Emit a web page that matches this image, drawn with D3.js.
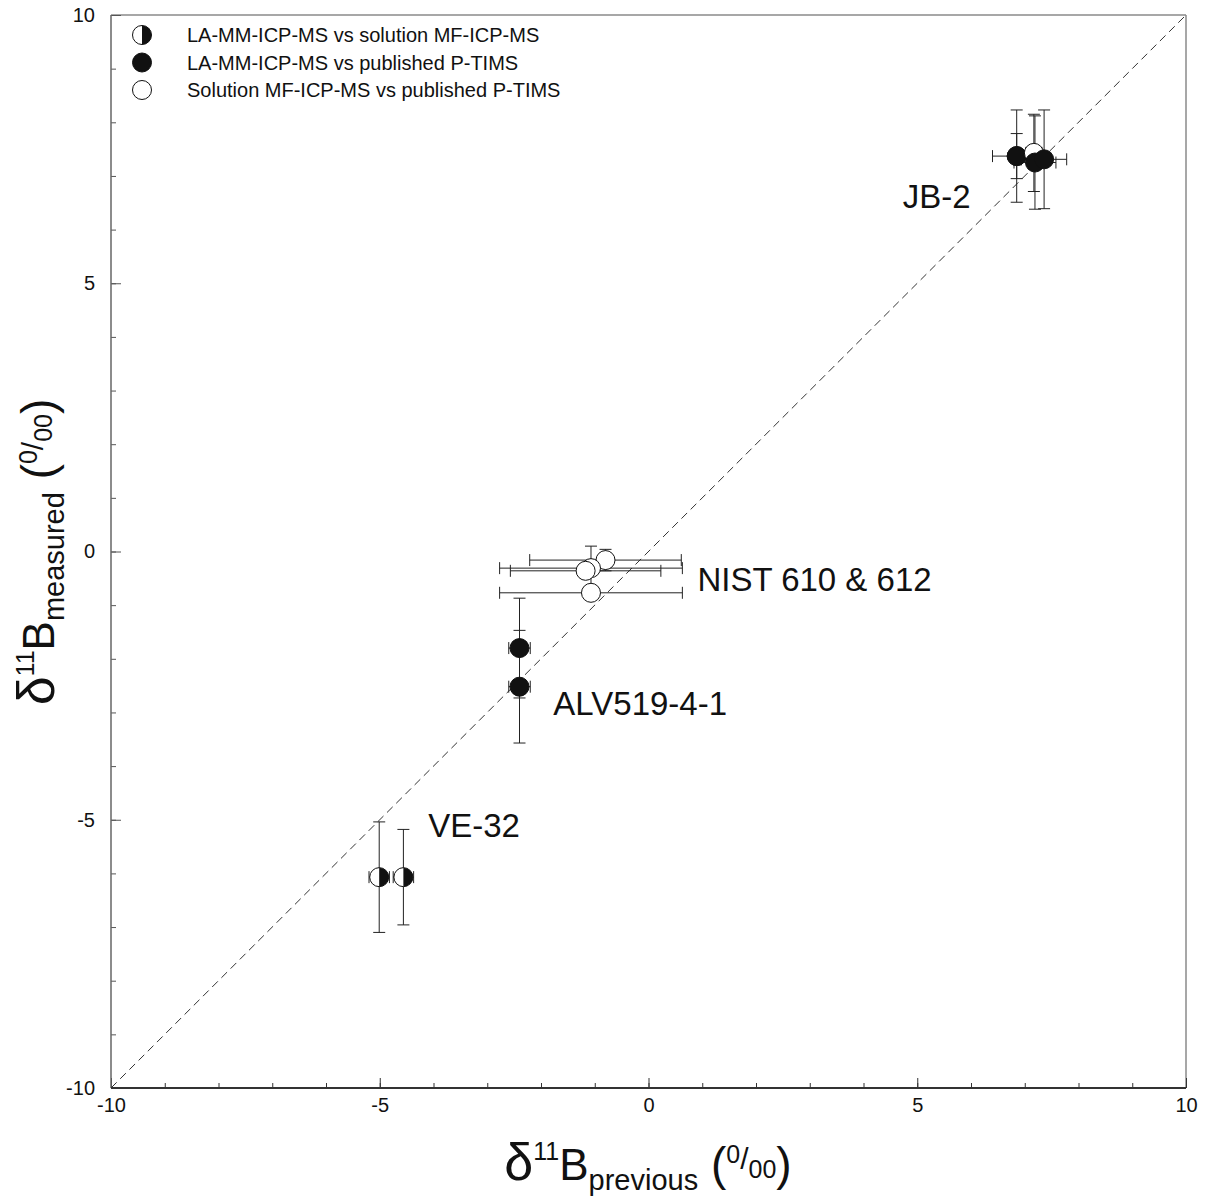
<!DOCTYPE html>
<html>
<head>
<meta charset="utf-8">
<script src="https://cdn.jsdelivr.net/npm/d3@7"></script>
<style>
  body { margin: 0; background: #fff; }
  text { font-family: "Liberation Sans", Arial, Helvetica, sans-serif; fill: #111; }
</style>
</head>
<body>
<div id="chart"></div>
<script>
// values (per mil)
let pointSample = ["VE-32", "VE-32", "ALV519-4-1", "ALV519-4-1", "NIST", "NIST", "NIST", "NIST", "JB-2", "JB-2", "JB-2", "JB-2", "JB-2"];
let pointType   = ["half", "half", "filled", "filled", "open", "open", "open", "open", "half", "filled", "open", "filled", "filled"];
let xPrevious   = [-5.01, -4.56, -2.40, -2.40, -0.80, -1.07, -1.17, -1.07, 6.85, 6.85, 7.17, 7.19, 7.36];
let yMeasured   = [-6.07, -6.07, -1.80, -2.52, -0.16, -0.31, -0.36, -0.77, 7.37, 7.37, 7.43, 7.25, 7.31];
let xError      = [0.19, 0.19, 0.20, 0.20, 1.41, 1.70, 1.40, 1.70, 0.00, 0.45, 0.15, 0.39, 0.42];
let yError      = [1.03, 0.89, 0.93, 1.05, 0.20, 0.41, 0.10, 0.10, 0.42, 0.86, 0.72, 0.87, 0.92];

let sampleLabels = ["VE-32", "ALV519-4-1", "NIST 610 & 612", "JB-2"];
let sampleLabelX = [-4.10, -1.77, 0.91, 4.73];
let sampleLabelY = [-5.32, -3.05, -0.74, 6.40];

let legendTypes  = ["half", "filled", "open"];
let legendLabels = ["LA-MM-ICP-MS vs solution MF-ICP-MS", "LA-MM-ICP-MS vs published P-TIMS", "Solution MF-ICP-MS vs published P-TIMS"];

let majorTicks = [-10, -5, 0, 5, 10];
let minorTicks = d3.range(-10, 11, 1);

// size of the page and the plot box
let width = 1207, height = 1196;
let plotLeft = 111, plotRight = 1186, plotTop = 15, plotBottom = 1088;
let r = 9.5;

let svg = d3.select("#chart")
  .append("svg")
  .attr("width", width)
  .attr("height", height);

let x = d3.scaleLinear().domain([-10, 10]).range([plotLeft, plotRight]);
let y = d3.scaleLinear().domain([-10, 10]).range([plotBottom, plotTop]);

// frame: top and right lighter
svg.append("line").attr("x1", plotLeft).attr("x2", plotRight).attr("y1", plotTop).attr("y2", plotTop)
  .attr("stroke", "#8a8a8a").attr("stroke-width", 1.5);
svg.append("line").attr("x1", plotRight).attr("x2", plotRight).attr("y1", plotTop).attr("y2", plotBottom)
  .attr("stroke", "#8a8a8a").attr("stroke-width", 1.5);

// minor ticks (inward)
svg.append("g")
  .attr("transform", "translate(0," + plotBottom + ")")
  .call(d3.axisBottom(x).tickValues(minorTicks).tickSize(-5).tickFormat(""))
  .call(g => g.select(".domain").remove())
  .selectAll("line").attr("stroke", "#333");
svg.append("g")
  .attr("transform", "translate(" + plotLeft + ",0)")
  .call(d3.axisLeft(y).tickValues(minorTicks).tickSize(-5).tickFormat(""))
  .call(g => g.select(".domain").remove())
  .selectAll("line").attr("stroke", "#555");

// major ticks with labels (plain hyphen for negatives, as in the figure)
let fmt = d => String(d);

let xAxis = svg.append("g")
  .attr("transform", "translate(0," + plotBottom + ")")
  .call(d3.axisBottom(x).tickValues(majorTicks).tickSize(-10).tickPadding(10).tickFormat(fmt));
xAxis.select(".domain").remove();
xAxis.selectAll("line").attr("stroke", "#333");
xAxis.selectAll("text").attr("font-size", 20).style("font-family", "Liberation Sans, Arial, sans-serif").attr("fill", "#111");

let yAxis = svg.append("g")
  .attr("transform", "translate(" + plotLeft + ",0)")
  .call(d3.axisLeft(y).tickValues(majorTicks).tickSize(-10).tickPadding(16).tickFormat(fmt));
yAxis.select(".domain").remove();
yAxis.selectAll("line").attr("stroke", "#555");
yAxis.selectAll("text").attr("font-size", 20).style("font-family", "Liberation Sans, Arial, sans-serif").attr("fill", "#111");

// bottom and left axis lines
svg.append("line").attr("x1", plotLeft).attr("x2", plotRight).attr("y1", plotBottom).attr("y2", plotBottom)
  .attr("stroke", "#333").attr("stroke-width", 1.8);
svg.append("line").attr("x1", plotLeft).attr("x2", plotLeft).attr("y1", plotTop).attr("y2", plotBottom)
  .attr("stroke", "#666").attr("stroke-width", 1.5);

// 1:1 line
svg.append("line")
  .attr("x1", x(-10)).attr("y1", y(-10))
  .attr("x2", x(10)).attr("y2", y(10))
  .attr("stroke", "#333")
  .attr("stroke-width", 1)
  .attr("stroke-dasharray", "8,5");

// error bars
let idx = d3.range(xPrevious.length);
let cap = 6;
let bars = svg.append("g").attr("stroke", "#222").attr("stroke-width", 1);

idx.forEach(function(i) {
  let cx = x(xPrevious[i]), cy = y(yMeasured[i]);
  if (yError[i] > 0) {
    let y1 = y(yMeasured[i] + yError[i]), y2 = y(yMeasured[i] - yError[i]);
    bars.append("line").attr("x1", cx).attr("x2", cx).attr("y1", y1).attr("y2", y2);
    bars.append("line").attr("x1", cx - cap).attr("x2", cx + cap).attr("y1", y1).attr("y2", y1);
    bars.append("line").attr("x1", cx - cap).attr("x2", cx + cap).attr("y1", y2).attr("y2", y2);
  }
  if (xError[i] > 0) {
    let x1 = x(xPrevious[i] - xError[i]), x2 = x(xPrevious[i] + xError[i]);
    bars.append("line").attr("x1", x1).attr("x2", x2).attr("y1", cy).attr("y2", cy);
    bars.append("line").attr("x1", x1).attr("x2", x1).attr("y1", cy - cap).attr("y2", cy + cap);
    bars.append("line").attr("x1", x2).attr("x2", x2).attr("y1", cy - cap).attr("y2", cy + cap);
  }
});

// symbol drawing
function drawMarker(g, cx, cy, type) {
  if (type === "half") {
    g.append("circle").attr("cx", cx).attr("cy", cy).attr("r", r)
      .attr("fill", "#fff").attr("stroke", "#111").attr("stroke-width", 1);
    g.append("path")
      .attr("d", "M" + cx + "," + (cy - r) + " A" + r + "," + r + " 0 0,1 " + cx + "," + (cy + r) + " Z")
      .attr("fill", "#111");
  } else {
    g.append("circle").attr("cx", cx).attr("cy", cy).attr("r", r)
      .attr("fill", type === "filled" ? "#111" : "#fff")
      .attr("stroke", "#111").attr("stroke-width", 1);
  }
}

let marks = svg.append("g");
idx.forEach(function(i) {
  drawMarker(marks, x(xPrevious[i]), y(yMeasured[i]), pointType[i]);
});

// sample labels
svg.selectAll(".sample")
  .data(sampleLabels)
  .enter()
  .append("text")
  .attr("class", "sample")
  .attr("x", (d, i) => x(sampleLabelX[i]))
  .attr("y", (d, i) => y(sampleLabelY[i]))
  .attr("font-size", 33)
  .text(d => d);

// legend
let legend = svg.append("g");
legendTypes.forEach(function(t, i) {
  let ly = 35 + i * 27.5;
  drawMarker(legend, 142, ly, t);
  legend.append("text")
    .attr("x", 187)
    .attr("y", ly)
    .attr("dy", "0.35em")
    .attr("font-size", 20)
    .text(legendLabels[i]);
});

// axis titles with sub/superscripts
function axisTitle(g, sub) {
  let t = g.append("text").attr("text-anchor", "middle");
  t.append("tspan").attr("font-size", 52).text("\u03b4");
  t.append("tspan").attr("font-size", 25).attr("dy", -20).text("11");
  t.append("tspan").attr("font-size", 44).attr("dy", 20).text("B");
  t.append("tspan").attr("font-size", 29).attr("dy", 10).text(sub);
  t.append("tspan").attr("font-size", 46).attr("dy", -10).text(" (");
  t.append("tspan").attr("font-size", 25).attr("dy", -17).text("0");
  t.append("tspan").attr("font-size", 30).attr("dy", 6).text("/");
  t.append("tspan").attr("font-size", 25).attr("dy", 9).text("00");
  t.append("tspan").attr("font-size", 46).attr("dy", 2).text(")");
  return t;
}

axisTitle(svg.append("g").attr("transform", "translate(648,1180)"), "previous");
axisTitle(svg.append("g").attr("transform", "translate(54,552) rotate(-90)"), "measured");
</script>
</body>
</html>
